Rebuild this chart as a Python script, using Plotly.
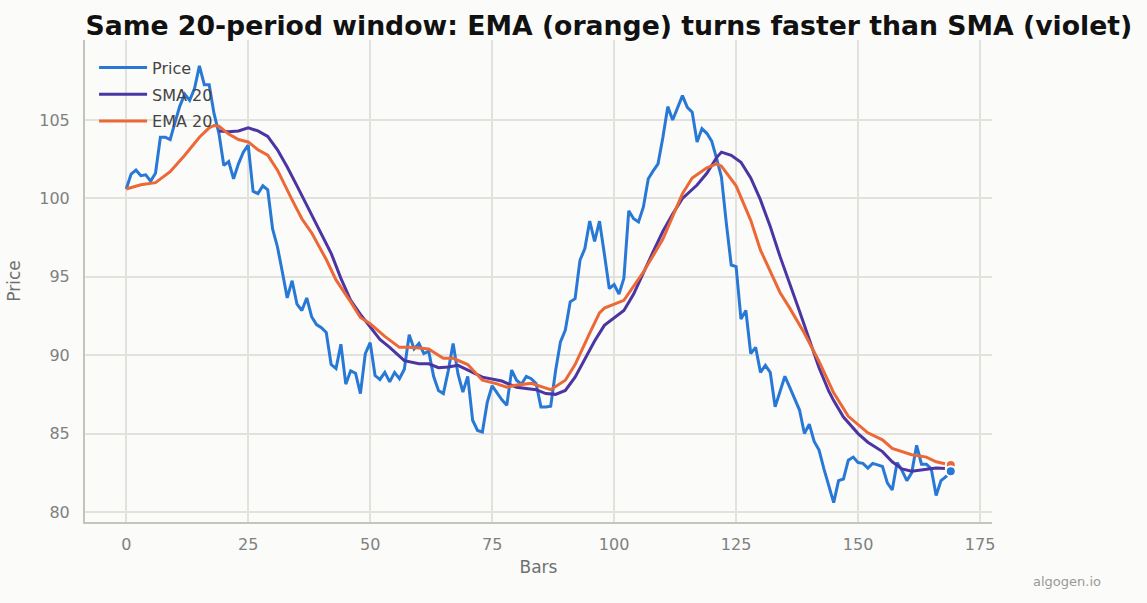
import plotly.graph_objects as go

# ---------------- data ----------------
price = [
    100.6, 101.55, 101.8, 101.45, 101.5, 101.1, 101.6, 103.9, 103.9, 103.75,
    104.85, 105.9, 106.65, 106.25, 107.0, 108.45, 107.25, 107.25, 105.4, 104.15,
    102.1, 102.35, 101.25, 102.2, 102.95, 103.4, 100.45, 100.3, 100.8, 100.55,
    98.05, 96.9, 95.3, 93.65, 94.75, 93.25, 92.85, 93.65, 92.45, 91.95,
    91.75, 91.45, 89.4, 89.15, 90.7, 88.15, 89.0, 88.85, 87.55, 90.1,
    90.8, 88.7, 88.45, 88.9, 88.3, 88.9, 88.5, 89.1, 91.3, 90.4,
    90.75, 90.1, 90.25, 88.65, 87.75, 87.55, 89.0, 90.75, 88.8, 87.65,
    88.65, 85.85, 85.2, 85.1, 87.0, 88.05, 87.6, 87.15, 86.8, 89.05,
    88.4, 88.15, 88.65, 88.5, 88.2, 86.7, 86.7, 86.75, 89.0, 90.85,
    91.6, 93.4, 93.6, 96.05, 96.8, 98.55, 97.25, 98.55, 96.45, 94.25,
    94.5, 93.9, 94.9, 99.2, 98.7, 98.5, 99.45, 101.25, 101.75, 102.2,
    103.9, 105.85, 105.0, 105.8, 106.55, 105.8, 105.5, 103.6, 104.45, 104.15,
    103.65, 102.55, 101.35, 98.4, 95.75, 95.65, 92.3, 92.85, 90.1, 90.5,
    88.9, 89.35, 88.9, 86.7, 87.65, 88.65, 87.95, 87.2, 86.5, 85.0,
    85.6, 84.5, 83.95, 82.75, 81.7, 80.6, 82.0, 82.1, 83.3, 83.5,
    83.15, 83.1, 82.8, 83.1, 83.0, 82.9, 81.85, 81.4, 83.15, 82.65,
    82.0, 82.5, 84.25, 83.05, 83.05, 82.75, 81.05, 82.0, 82.25, 82.6,
]
bars = list(range(len(price)))

sma_bars = [19, 21, 23, 25, 27, 29, 31, 33, 35, 37, 40, 42, 44, 46, 48, 50, 52, 54, 57,
            60, 62, 64, 66, 68, 71, 73, 77, 80, 84, 86, 88, 90, 92, 94, 96, 98, 102,
            104, 106, 108, 110, 112, 114, 117, 119, 121, 122, 124, 126, 128, 130, 132,
            134, 136, 138, 140, 142, 144, 145, 147, 150, 152, 155, 157, 159, 161, 164,
            166, 169]
sma_20 = [104.3, 104.25, 104.3, 104.5, 104.3, 103.95, 103.1, 102.0, 100.8, 99.6,
          97.7, 96.5, 94.9, 93.5, 92.6, 91.8, 91.0, 90.5, 89.65,
          89.45, 89.45, 89.2, 89.25, 89.35, 88.9, 88.6, 88.35, 87.95, 87.8, 87.55,
          87.5, 87.75, 88.6, 89.8, 90.9, 91.9, 92.85,
          93.9, 95.3, 96.6, 97.9, 99.0, 100.0, 100.85, 101.6, 102.6, 102.95, 102.75,
          102.3, 101.3, 99.9, 98.2,
          96.3, 94.6, 92.8, 91.0, 89.2, 87.7, 87.1, 86.05, 85.0, 84.45, 83.85, 83.2,
          82.75, 82.6, 82.7,
          82.8, 82.75]

ema_bars = [0, 3, 6, 9, 12, 15, 17, 18, 19, 21, 23, 25, 27, 29, 31, 33, 34, 36, 38,
            41, 43, 46, 48, 50, 53, 56, 58, 60, 62, 64, 65, 67, 70, 73, 76, 78, 80,
            83, 87, 90, 92, 95, 97, 98, 102, 106, 110, 114, 116, 119, 121, 122, 125,
            128, 130, 134, 136, 139, 142, 145, 148, 152, 155, 157, 161, 164, 166, 169]
ema_20 = [100.6, 100.87, 101.0, 101.7, 102.75, 103.9, 104.5, 104.65, 104.6, 104.1,
          103.75, 103.6, 103.1, 102.75, 101.8, 100.5, 99.9, 98.7, 97.8,
          96.1, 94.8, 93.4, 92.4, 92.0, 91.2, 90.5, 90.5, 90.45, 90.4, 90.0, 89.8,
          89.8, 89.4, 88.4, 88.17, 87.96, 88.1,
          88.2, 87.8, 88.4, 89.4, 91.4, 92.7, 93.0, 93.5, 95.3, 97.4, 100.3, 101.3,
          101.95, 102.2, 102.05, 100.8,
          98.6, 96.7, 94.0, 93.0, 91.4, 89.6, 87.6, 86.1, 85.05, 84.6, 84.05, 83.65,
          83.5, 83.2, 83.0]

x_ticks = [0, 25, 50, 75, 100, 125, 150, 175]
y_ticks = [80, 85, 90, 95, 100, 105]

C_PRICE = "#2878d6"
C_SMA = "#4a35a2"
C_EMA = "#ec6836"
BG = "#fbfbf9"
GRID = "#e2e2dc"
FONT = "DejaVu Sans"

fig = go.Figure()
fig.add_trace(go.Scatter(x=bars, y=price, mode="lines", name="Price", legendgroup="p",
                         line=dict(color=C_PRICE, width=3)))
fig.add_trace(go.Scatter(x=sma_bars, y=sma_20, mode="lines", name="SMA 20", legendgroup="s",
                         line=dict(color=C_SMA, width=3)))
fig.add_trace(go.Scatter(x=ema_bars, y=ema_20, mode="lines", name="EMA 20", legendgroup="e",
                         line=dict(color=C_EMA, width=3)))
# end-point markers
for xs, ys, c in [(sma_bars, sma_20, C_SMA), (ema_bars, ema_20, C_EMA), (bars, price, C_PRICE)]:
    fig.add_trace(go.Scatter(x=[xs[-1]], y=[ys[-1]], mode="markers", showlegend=False,
                             hoverinfo="skip",
                             marker=dict(color=c, size=10, line=dict(color="white", width=2))))

fig.update_layout(
    width=1147, height=603,
    paper_bgcolor=BG, plot_bgcolor=BG,
    margin=dict(l=85, r=155, t=40, b=81),
    font=dict(family=FONT, color="#666"),
    title=dict(text="Same 20-period window: EMA (orange) turns faster than SMA (violet)",
               font=dict(family=FONT, size=26.7, color="#111", weight="bold"),
               x=0.0745, xanchor="left", y=0.958, yanchor="middle"),
    legend=dict(x=0.01, y=0.978, xanchor="left", yanchor="top",
                bgcolor="rgba(0,0,0,0)", font=dict(size=16, color="#444"),
                tracegroupgap=3, itemwidth=48),
    showlegend=True,
)
fig.update_xaxes(range=[-8.45, 177.45], tickvals=x_ticks, showgrid=True, gridcolor=GRID,
                 gridwidth=1.5, zeroline=False, showline=True, linecolor="#c4c4bc", linewidth=2,
                 ticks="outside", ticklen=7, tickcolor="rgba(0,0,0,0)",
                 tickfont=dict(size=16, color="#808080"),
                 title=dict(text="Bars", font=dict(size=17, color="#707070"), standoff=8))
fig.update_yaxes(range=[79.36, 110.1], tickvals=y_ticks, showgrid=True, gridcolor=GRID,
                 gridwidth=1.5, zeroline=False, showline=True, linecolor="#c4c4bc", linewidth=2,
                 ticks="outside", ticklen=10, tickcolor="rgba(0,0,0,0)",
                 tickfont=dict(size=16, color="#808080"),
                 title=dict(text="Price", font=dict(size=17, color="#707070"), standoff=14))
fig.add_annotation(text="algogen.io", xref="paper", yref="paper", x=1.122, y=-0.124,
                   xanchor="right", yanchor="middle", showarrow=False,
                   font=dict(size=13, color="#999"))

fig.write_html("out.html")
